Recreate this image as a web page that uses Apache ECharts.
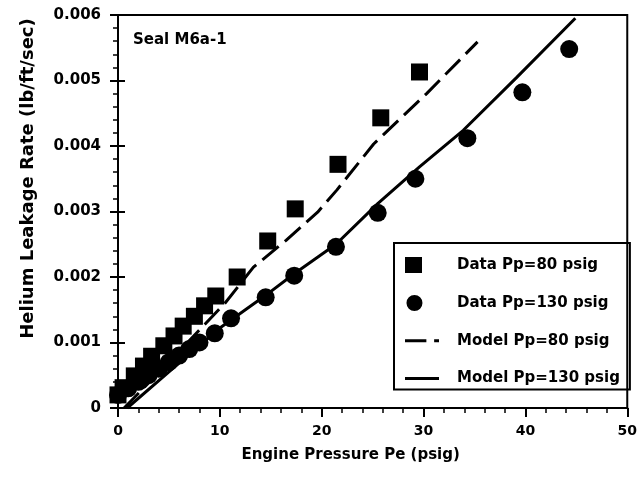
<!DOCTYPE html>
<html>
<head>
<meta charset="utf-8">
<script src="https://cdn.jsdelivr.net/npm/echarts@6/dist/echarts.min.js"></script>
<style>
  html, body { margin: 0; padding: 0; background: #fff; }
  #chart { width: 640px; height: 477px; }
</style>
</head>
<body>
<div id="chart"></div>
<script>
// Data Pp=80 psig (squares)
const sqX = [0, 0.5, 1.6, 2.5, 3.3, 4.5, 5.5, 6.4, 7.5, 8.5, 9.6, 11.7, 14.7, 17.4, 21.6, 25.8, 29.6];
const sqY = [0.0002, 0.00031, 0.00049, 0.00064, 0.00079, 0.00095, 0.0011, 0.00125, 0.0014, 0.00156, 0.00171,
  0.002, 0.00255, 0.00304, 0.00372, 0.00443, 0.00513];

// Data Pp=130 psig (circles)
const circX = [0, 1, 2, 3, 4, 5, 6, 7, 8, 9.5, 11.1, 14.5, 17.3, 21.4, 25.5, 29.2, 34.3, 39.7, 44.3];
const circY = [0.0002, 0.0003, 0.0004, 0.0005, 0.0006, 0.0007, 0.0008, 0.0009, 0.001, 0.00114,
  0.00137, 0.00169, 0.00202, 0.00246, 0.00298, 0.0035, 0.00412, 0.00482, 0.00548];

// Model Pp=80 psig (dashed)
const dashX = [0.6, 5, 10.5, 13.3, 16.5, 19.6, 21.5, 25.1, 30.3, 35.3];
const dashY = [0, 0.0007, 0.0016, 0.00215, 0.00256, 0.00299, 0.00333, 0.00403, 0.0048, 0.00559];

// Model Pp=130 psig (solid)
const solidX = [0.9, 5, 10, 14.5, 17.3, 21.4, 25.5, 29.6, 33.9, 39.1, 44.9];
const solidY = [0, 0.00055, 0.00122, 0.00172, 0.00205, 0.0025, 0.00312, 0.00368, 0.00424, 0.00504, 0.00595];

const seriesNames = ["Data Pp=80 psig", "Data Pp=130 psig", "Model Pp=80 psig", "Model Pp=130 psig"];

const pairs = (xs, ys) => xs.map((x, i) => [x, ys[i]]);

const font = "DejaVu Sans";
const black = "#000";

// legend icons live in a 34x16 box, corner dots keep the box size
const box = "M0,0h0.01v0.01h-0.01zM33.99,15.99h0.01v0.01h-0.01z";
const icons = {
  square: "path://" + box + "M0,0h17v16h-17z",
  circle: "path://" + box + "M9,-0.5a8.5,8.5 0 1,1 0,17a8.5,8.5 0 1,1 0,-17z",
  dashed: "path://" + box + "M0,6.5h22v3h-22zM30,6.5h5v3h-5z",
  solid: "path://" + box + "M0,6.5h34v3h-34z",
};

const options = {
  animation: false,
  backgroundColor: "#fff",
  title: {
    text: "Seal M6a-1",
    left: 133,
    top: 33,
    padding: 0,
    textStyle: { fontFamily: font, fontWeight: "bold", fontSize: 15, color: black },
  },
  grid: {
    left: 118,
    right: 8,
    top: 15,
    bottom: 69,
    show: true,
    borderColor: black,
    borderWidth: 2,
  },
  legend: {
    orient: "vertical",
    left: 394,
    top: 243,
    padding: [14, 10, 3, 11],
    itemGap: 22,
    itemWidth: 34,
    itemHeight: 16,
    borderColor: black,
    borderWidth: 2,
    selectedMode: false,
    textStyle: { fontFamily: font, fontWeight: "bold", fontSize: 15, color: black, padding: [0, 0, 0, 13] },
    data: [
      { name: seriesNames[0], icon: icons.square },
      { name: seriesNames[1], icon: icons.circle },
      { name: seriesNames[2], icon: icons.dashed },
      { name: seriesNames[3], icon: icons.solid },
    ],
  },
  xAxis: {
    type: "value",
    min: 0,
    max: 50,
    interval: 10,
    name: "Engine Pressure Pe (psig)",
    nameLocation: "middle",
    nameGap: 40,
    nameTextStyle: { fontFamily: font, fontWeight: "bold", fontSize: 15, color: black, padding: [0, 44, 0, 0] },
    axisLine: { lineStyle: { color: black, width: 2 } },
    axisTick: { length: 9, lineStyle: { color: black, width: 2 } },
    minorTick: { show: true, splitNumber: 5, length: 5, lineStyle: { color: black, width: 1.5 } },
    splitLine: { show: false },
    axisLabel: { margin: 16, fontFamily: font, fontWeight: "bold", fontSize: 14, color: black },
  },
  yAxis: [
    {
      type: "value",
      min: 0,
      max: 0.006,
      interval: 0.001,
      name: "Helium Leakage Rate (lb/ft/sec)",
      nameLocation: "middle",
      nameGap: 81,
      nameTextStyle: { fontFamily: font, fontWeight: "bold", fontSize: 18, color: black, padding: [0, 0, 0, 66] },
      axisLine: { lineStyle: { color: black, width: 2 } },
      axisTick: { length: 8, lineStyle: { color: black, width: 2 } },
      minorTick: { show: true, splitNumber: 5, length: 5, lineStyle: { color: black, width: 1.5 } },
      splitLine: { show: false },
      axisLabel: {
        margin: 17,
        fontFamily: font,
        fontWeight: "bold",
        fontSize: 15,
        color: black,
        formatter: (v) => (v === 0 ? "0" : v.toFixed(3)),
      },
    },
    {
      // inward half of the crossing major ticks
      type: "value",
      position: "left",
      min: 0,
      max: 0.006,
      interval: 0.001,
      axisLine: { show: false },
      axisTick: { inside: true, length: 7, lineStyle: { color: black, width: 2 } },
      axisLabel: { show: false },
      splitLine: { show: false },
    },
  ],
  series: [
    {
      name: seriesNames[0],
      type: "scatter",
      symbol: "rect",
      symbolSize: 17,
      itemStyle: { color: black, opacity: 1 },
      data: pairs(sqX, sqY),
    },
    {
      name: seriesNames[1],
      type: "scatter",
      symbol: "circle",
      symbolSize: 18,
      itemStyle: { color: black, opacity: 1 },
      data: pairs(circX, circY),
    },
    {
      name: seriesNames[2],
      type: "line",
      symbol: "none",
      itemStyle: { color: black },
      lineStyle: { color: black, width: 3, type: [21, 8] },
      data: pairs(dashX, dashY),
    },
    {
      name: seriesNames[3],
      type: "line",
      symbol: "none",
      itemStyle: { color: black },
      lineStyle: { color: black, width: 3 },
      data: pairs(solidX, solidY),
    },
  ],
};

const chart = echarts.init(document.getElementById("chart"));
chart.setOption(options);
</script>
</body>
</html>
